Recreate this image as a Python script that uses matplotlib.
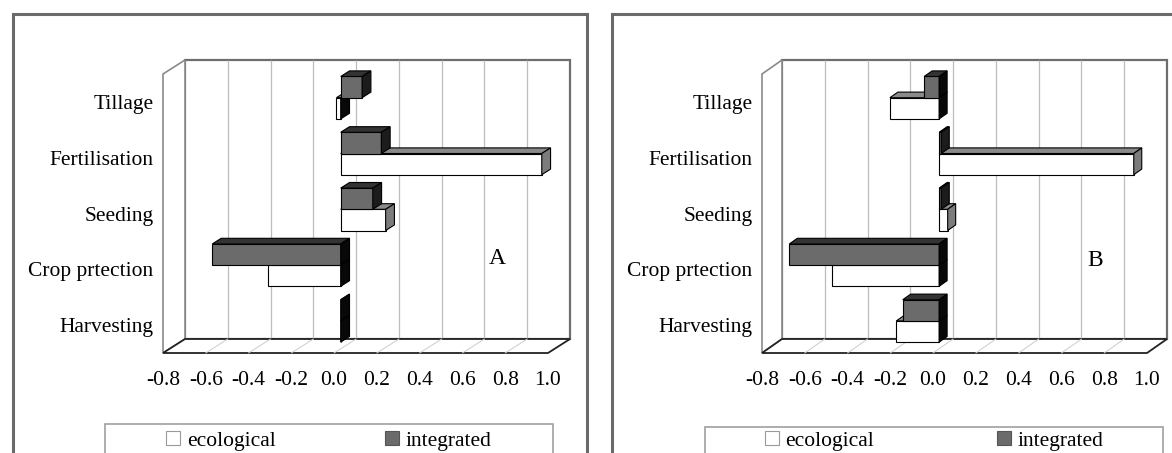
import matplotlib
matplotlib.use("Agg")
import matplotlib.pyplot as plt
from matplotlib.patches import Polygon, Rectangle, Patch
from matplotlib.transforms import ScaledTranslation, IdentityTransform

# ---------------- data ----------------
categories = ["Tillage", "Fertilisation", "Seeding", "Crop prtection", "Harvesting"]
series_names = ["ecological", "integrated"]
a_ecological = [-0.02, 0.94, 0.21, -0.34, 0.0]
a_integrated = [0.10, 0.19, 0.15, -0.60, 0.0]
b_ecological = [-0.23, 0.91, 0.04, -0.50, -0.20]
b_integrated = [-0.07, 0.01, 0.01, -0.70, -0.17]
x_ticks = [-0.8, -0.6, -0.4, -0.2, 0.0, 0.2, 0.4, 0.6, 0.8, 1.0]
x_tick_labels = ["-0.8", "-0.6", "-0.4", "-0.2", "0.0", "0.2", "0.4", "0.6", "0.8", "1.0"]
panel_letters = ["A", "B"]

# ---------------- style ----------------
plt.rcParams["font.family"] = ["Liberation Serif", "DejaVu Serif"]
W, H = 1172, 453
DPI = 100
FS = 15.5
fig = plt.figure(figsize=(W / DPI, H / DPI), dpi=DPI)

ECO_FRONT, ECO_TOP, ECO_SIDE = "#ffffff", "#8a8a8a", "#7c7c7c"
INT_FRONT, INT_TOP, INT_SIDE = "#6b6b6b", "#333333", "#1c1c1c"
NEG_SIDE = "#080808"


def draw_panel(front_box, depth, eco, integ, letter, letter_xy, frame_x, legend_box,
               legend_cx, colspace):
    x0, y0, x1, y1 = front_box
    dx, dy = depth
    ax = fig.add_axes([x0 / W, 1 - y1 / H, (x1 - x0) / W, (y1 - y0) / H])
    ax.set_xlim(x_ticks[0], x_ticks[-1])
    ax.set_ylim(len(categories) - 0.5, -0.5)
    ax.patch.set_visible(False)
    for s in ax.spines.values():
        s.set_visible(False)
    ax.set_xticks(x_ticks)
    ax.set_xticklabels(x_tick_labels, fontsize=FS)
    ax.set_yticks(range(len(categories)))
    ax.set_yticklabels(categories, fontsize=FS)
    ax.tick_params(axis="x", length=0, pad=13)
    ax.tick_params(axis="y", length=0, pad=7)

    def off(frac):
        return ax.transData + ScaledTranslation(frac * dx / DPI, frac * dy / DPI,
                                                fig.dpi_scale_trans)

    def P(x, y, frac):
        X, Y = ax.transData.transform((x, y))
        return (X + frac * dx, Y + frac * dy)

    xa, xb = x_ticks[0], x_ticks[-1]
    ytop, ybot = -0.5, len(categories) - 0.5

    # back wall
    ax.add_patch(Rectangle((xa, ybot), xb - xa, ytop - ybot, transform=off(1.0),
                           facecolor="white", edgecolor="#6e6e6e", lw=1.6,
                           zorder=0.2, clip_on=False))
    ax.vlines(x_ticks[1:-1], ybot, ytop, colors="#bdbdbd", lw=0.9,
              transform=off(1.0), zorder=0.3, clip_on=False)
    # left wall
    ax.add_patch(Polygon([P(xa, ytop, 0), P(xa, ybot, 0), P(xa, ybot, 1), P(xa, ytop, 1)],
                         closed=True, transform=IdentityTransform(), facecolor="white",
                         edgecolor="#8a8a8a", lw=1.2, zorder=0.4, clip_on=False))
    # floor
    ax.add_patch(Polygon([P(xa, ybot, 0), P(xb, ybot, 0), P(xb, ybot, 1), P(xa, ybot, 1)],
                         closed=True, transform=IdentityTransform(), facecolor="white",
                         edgecolor="#222222", lw=1.3, zorder=0.5, clip_on=False))
    for t in x_ticks[1:-1]:
        a, b = P(t, ybot, 0), P(t, ybot, 1)
        ax.add_line(plt.Line2D([a[0], b[0]], [a[1], b[1]], color="#cccccc", lw=0.7,
                               transform=IdentityTransform(), zorder=0.6, clip_on=False))

    # bars (painter order: bottom category first, lower series first)
    fa, fb = 0.3, 0.7
    h = 0.38
    z = 2.0
    for i in reversed(range(len(categories))):
        for v, yc, front, top, side in (
            (eco[i], i + h / 2, ECO_FRONT, ECO_TOP, ECO_SIDE),
            (integ[i], i - h / 2, INT_FRONT, INT_TOP, INT_SIDE),
        ):
            yt, yb = yc - h / 2, yc + h / 2
            ax.barh([yc], [v], height=h, left=0, color=front, edgecolor="black",
                    lw=0.8, transform=off(fa), zorder=z, clip_on=False)
            lo, hi = min(v, 0.0), max(v, 0.0)
            ax.add_patch(Polygon([P(lo, yt, fa), P(hi, yt, fa), P(hi, yt, fb), P(lo, yt, fb)],
                                 closed=True, transform=IdentityTransform(),
                                 facecolor=top, edgecolor="black", lw=0.8,
                                 zorder=z + 0.1, clip_on=False))
            sc = side if v > 0 else NEG_SIDE
            ax.add_patch(Polygon([P(hi, yt, fa), P(hi, yb, fa), P(hi, yb, fb), P(hi, yt, fb)],
                                 closed=True, transform=IdentityTransform(),
                                 facecolor=sc, edgecolor="black", lw=0.8,
                                 zorder=z + 0.2, clip_on=False))
            z += 1

    fig.text(letter_xy[0] / W, 1 - letter_xy[1] / H, letter, fontsize=17,
             ha="center", va="center")

    # panel frame
    fig.add_artist(Rectangle((frame_x[0] / W, -0.3), (frame_x[1] - frame_x[0]) / W,
                             (H - 14) / H + 0.3, transform=fig.transFigure, fill=False,
                             edgecolor="#6a6a6a", lw=2.2))
    # legend
    lx0, lx1, ly = legend_box
    fig.add_artist(Rectangle((lx0 / W, -0.3), (lx1 - lx0) / W, (H - ly) / H + 0.3,
                             transform=fig.transFigure, fill=False,
                             edgecolor="#a0a0a0", lw=1.2))
    handles = [Patch(facecolor="white", edgecolor="#9a9a9a", lw=0.8),
               Patch(facecolor="#6b6b6b", edgecolor="#555555", lw=0.8)]
    fig.legend(handles, series_names, ncol=2, loc="center",
               bbox_to_anchor=(legend_cx / W, 1 - 441 / H), frameon=False,
               fontsize=FS, handlelength=0.65, handleheight=0.65,
               handletextpad=0.3, columnspacing=colspace, borderpad=0)


draw_panel((163, 74, 548, 353), (22, 14), a_ecological, a_integrated, panel_letters[0],
           (497, 259), (13, 587), (105, 553, 424), 329, 5.1)
draw_panel((762, 74, 1147, 353), (20, 14), b_ecological, b_integrated, panel_letters[1],
           (1095, 261), (612, 1190), (705, 1163, 427), 934, 5.7)

fig.savefig("out.png", dpi=DPI)
